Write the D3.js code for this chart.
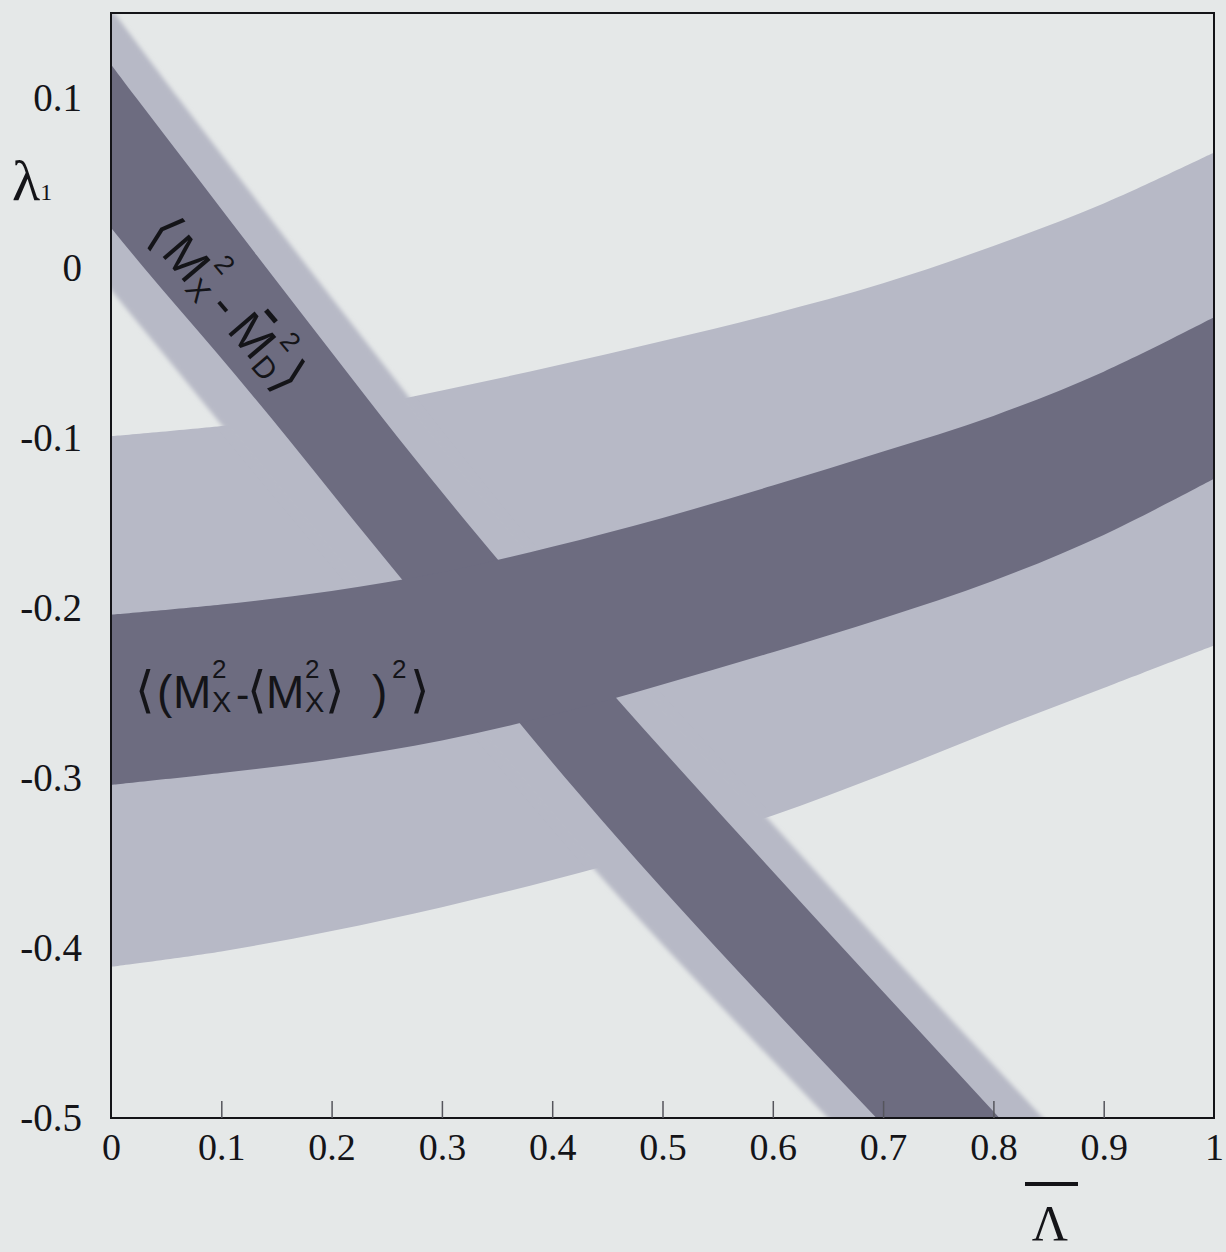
<!DOCTYPE html>
<html>
<head>
<meta charset="utf-8">
<script src="https://cdn.jsdelivr.net/npm/d3@7"></script>
<style>
  html, body { margin: 0; padding: 0; background: #e5e8e8; }
  svg { display: block; }
</style>
</head>
<body>
<svg id="chart" width="1226" height="1252"></svg>
<script>
// ---- ⟨(M_X² − ⟨M_X²⟩)²⟩ band: λ1 edges sampled on a Λ̄ grid ----
const lambdaBarGrid = [0, 0.1, 0.2, 0.3, 0.4, 0.5, 0.6, 0.7, 0.8, 0.9, 1.0];
const varDarkUpper  = [-0.204, -0.198, -0.190, -0.179, -0.164, -0.147, -0.128, -0.108, -0.087, -0.061, -0.029];
const varDarkLower  = [-0.304, -0.297, -0.289, -0.278, -0.263, -0.245, -0.226, -0.206, -0.184, -0.157, -0.124];
const varLightUpper = [-0.099, -0.093, -0.085, -0.072, -0.058, -0.043, -0.027, -0.009, 0.013, 0.038, 0.068];
const varLightLower = [-0.411, -0.402, -0.390, -0.376, -0.360, -0.342, -0.322, -0.298, -0.272, -0.247, -0.222];

// ---- ⟨M_X² − M̄_D²⟩ band: Λ̄ edges sampled on a λ1 grid ----
const lambda1Grid    = [0.15, 0.1, 0.05, 0, -0.05, -0.1, -0.15, -0.2, -0.25, -0.3, -0.35, -0.4, -0.45, -0.5, -0.55];
const momDarkRight   = [-0.035, 0.023, 0.082, 0.141, 0.2005, 0.2605, 0.323, 0.388, 0.454, 0.523, 0.593, 0.6635, 0.7345, 0.8055, 0.877];
const momDarkLeft    = [-0.146, -0.089, -0.032, 0.030, 0.096, 0.160, 0.222, 0.285, 0.348, 0.412, 0.479, 0.549, 0.621, 0.694, 0.768];
const momLightRight  = [0.003, 0.061, 0.120, 0.179, 0.239, 0.299, 0.361, 0.426, 0.492, 0.562, 0.632, 0.702, 0.773, 0.845, 0.916];
const momLightLeft   = [-0.190, -0.134, -0.076, -0.016, 0.047, 0.110, 0.174, 0.238, 0.302, 0.367, 0.433, 0.503, 0.576, 0.650, 0.723];

// ---- axes ----
const xTickValues = [0, 0.1, 0.2, 0.3, 0.4, 0.5, 0.6, 0.7, 0.8, 0.9, 1];
const xTickLabels = ["0", "0.1", "0.2", "0.3", "0.4", "0.5", "0.6", "0.7", "0.8", "0.9", "1"];
const yTickValues = [0.1, 0, -0.1, -0.2, -0.3, -0.4, -0.5];
const yTickLabels = ["0.1", "0", "-0.1", "-0.2", "-0.3", "-0.4", "-0.5"];

const C = {
  paper: "#e5e8e8",
  light: "#b7b9c6",
  dark: "#6d6c80",
  ink: "#141418",
  tick: "#55555c"
};

const plot = { left: 111, right: 1214, top: 13, bottom: 1118 };
const x = d3.scaleLinear().domain([0, 1]).range([plot.left, plot.right]);
const y = d3.scaleLinear().domain([-0.5, 0.15]).range([plot.bottom, plot.top]);

const svg = d3.select("#chart");
svg.append("rect").attr("width", 1226).attr("height", 1252).attr("fill", C.paper);

const defs = svg.append("defs");
defs.append("clipPath").attr("id", "plotClip")
  .append("rect")
  .attr("x", plot.left).attr("y", plot.top)
  .attr("width", plot.right - plot.left).attr("height", plot.bottom - plot.top);
defs.append("filter").attr("id", "soft").attr("x", "-5%").attr("y", "-5%").attr("width", "110%").attr("height", "110%")
  .append("feGaussianBlur").attr("stdDeviation", 2.2);

// band builders
const hBand = (upper, lower) => d3.area()
  .x((d, i) => x(lambdaBarGrid[i]))
  .y0((d, i) => y(lower[i]))
  .y1((d, i) => y(upper[i]))
  .curve(d3.curveCatmullRom)(lambdaBarGrid);

const dBand = (left, right) => d3.area()
  .y((d, i) => y(lambda1Grid[i]))
  .x0((d, i) => x(left[i]))
  .x1((d, i) => x(right[i]))
  .curve(d3.curveCatmullRom)(lambda1Grid);

const bands = svg.append("g").attr("clip-path", "url(#plotClip)");
bands.append("path").attr("d", hBand(varLightUpper, varLightLower)).attr("fill", C.light);
bands.append("g").attr("filter", "url(#soft)")
  .append("path").attr("d", dBand(momLightLeft, momLightRight)).attr("fill", C.light);
bands.append("path").attr("d", dBand(momDarkLeft, momDarkRight)).attr("fill", C.dark);
bands.append("path").attr("d", hBand(varDarkUpper, varDarkLower)).attr("fill", C.dark);

// ---- formula labels inside the bands ----
const sans = "'Liberation Sans', Arial, Helvetica, sans-serif";
const bracketFont = "'DejaVu Sans', sans-serif";

// items are laid out left to right; "at" pins an item to a given offset
function setFormula(g, items, base) {
  let cx = 0;
  items.forEach(it => {
    if (it.at !== undefined) cx = it.at;
    if (it.t !== undefined) {
      const el = g.append("text")
        .attr("x", cx).attr("y", it.dy || 0)
        .attr("font-family", it.family || sans)
        .attr("font-size", it.size || base)
        .attr("fill", C.ink)
        .text(it.t);
      const w = el.node().getComputedTextLength();
      if (it.bar) {
        g.append("line")
          .attr("x1", cx + w * 0.25).attr("x2", cx + w * 0.62)
          .attr("y1", -base * 0.88).attr("y2", -base * 0.88)
          .attr("stroke", C.ink).attr("stroke-width", base * 0.1);
      }
      cx += w + (it.gap || 0);
    } else {
      const a = g.append("text").attr("x", cx).attr("y", it.supY)
        .attr("font-family", sans).attr("font-size", it.supSize).attr("fill", C.ink).text(it.sup);
      const b = g.append("text").attr("x", cx).attr("y", it.subY)
        .attr("font-family", sans).attr("font-size", it.subSize).attr("fill", C.ink).text(it.sub);
      const w = Math.max(a.node().getComputedTextLength(), b.node().getComputedTextLength());
      cx += w + (it.gap || 0);
    }
  });
  return cx;
}

// ⟨(M_X²-⟨M_X²⟩)²⟩
const lab1 = svg.append("g").attr("transform", "translate(135,708)");
setFormula(lab1, [
  { at: 0,   t: "⟨", family: bracketFont, size: 50, dy: -1 },
  { at: 22,  t: "(" },
  { at: 38,  t: "M" },
  { at: 77,  sup: "2", supY: -30, supSize: 26, sub: "X", subY: 4, subSize: 29 },
  { at: 101, t: "-", size: 40 },
  { at: 112, t: "⟨", family: bracketFont, size: 50, dy: -1 },
  { at: 131, t: "M" },
  { at: 170, sup: "2", supY: -30, supSize: 26, sub: "X", subY: 4, subSize: 29 },
  { at: 190, t: "⟩", family: bracketFont, size: 50, dy: -1 },
  { at: 237, t: ")" },
  { at: 257, sup: "2", supY: -30, supSize: 26, sub: "", subY: 4, subSize: 29 },
  { at: 275, t: "⟩", family: bracketFont, size: 50, dy: -1 }
], 46);

// ⟨M_X² - M̄_D²⟩, written along the steep band
const lab2 = svg.append("g");
const lab2w = setFormula(lab2, [
  { t: "⟨", family: bracketFont, size: 52, dy: -1, gap: 4 },
  { t: "M", gap: 1 },
  { sup: "2", supY: -33, supSize: 27, sub: "X", subY: 5, subSize: 30, gap: 10 },
  { t: "-", gap: 12 },
  { t: "M", bar: true, gap: 1 },
  { sup: "2", supY: -33, supSize: 27, sub: "D", subY: 5, subSize: 30, gap: 2 },
  { t: "⟩", family: bracketFont, size: 52, dy: -1 }
], 50);
lab2.attr("transform", `translate(226,305) rotate(49.5) translate(${-lab2w / 2},17)`);

// ---- frame ----
svg.append("rect")
  .attr("x", plot.left).attr("y", plot.top)
  .attr("width", plot.right - plot.left).attr("height", plot.bottom - plot.top)
  .attr("fill", "none").attr("stroke", C.ink).attr("stroke-width", 2);

// ---- axes ----
const serif = "'Liberation Serif', 'Times New Roman', serif";

const xAxis = svg.append("g")
  .attr("transform", `translate(0,${plot.bottom})`)
  .call(d3.axisBottom(x).tickValues(xTickValues)
    .tickFormat((d, i) => xTickLabels[i])
    .tickSizeInner(-17).tickSizeOuter(0).tickPadding(15));
xAxis.select(".domain").remove();
xAxis.selectAll(".tick line").attr("stroke", C.tick).attr("stroke-width", 1.5)
  .filter(d => d === 0 || d === 1).remove();
xAxis.selectAll(".tick text")
  .attr("font-family", serif).attr("font-size", 38).attr("fill", C.ink);

const yAxis = svg.append("g")
  .attr("transform", `translate(${plot.left},0)`)
  .call(d3.axisLeft(y).tickValues(yTickValues)
    .tickFormat((d, i) => yTickLabels[i])
    .tickSize(0).tickPadding(29));
yAxis.select(".domain").remove();
yAxis.selectAll(".tick text")
  .attr("font-family", serif).attr("font-size", 39).attr("fill", C.ink);

// axis titles: λ1 (left) and Λ̄ (below)
const yTitle = svg.append("text")
  .attr("x", 12).attr("y", 200)
  .attr("font-family", serif).attr("font-size", 58).attr("fill", C.ink);
yTitle.append("tspan").text("λ");
yTitle.append("tspan").attr("font-size", 24).text("1");

svg.append("line")
  .attr("x1", 1025).attr("x2", 1078).attr("y1", 1184).attr("y2", 1184)
  .attr("stroke", C.ink).attr("stroke-width", 4);
svg.append("text")
  .attr("x", 1050).attr("y", 1240)
  .attr("text-anchor", "middle")
  .attr("font-family", serif).attr("font-size", 50).attr("fill", C.ink)
  .text("Λ");
</script>
</body>
</html>
